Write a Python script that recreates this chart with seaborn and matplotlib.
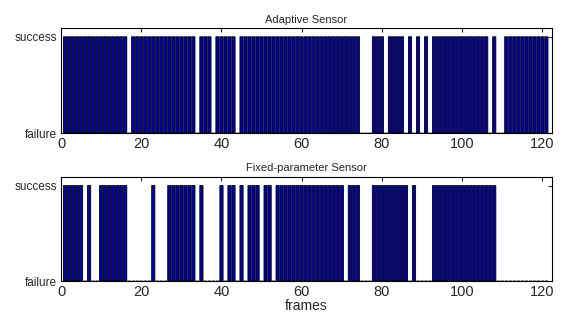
import numpy as np
import pandas as pd
import matplotlib
matplotlib.use('Agg')
import matplotlib.pyplot as plt
import seaborn as sns

# frame index and per-frame tracking result (1 = success, 0 = failure)
frames = list(range(1, 122))

adaptive = [1, 1, 1, 1, 1, 1, 1, 1, 1, 1,
            1, 1, 1, 1, 1, 1, 0, 1, 1, 1,
            1, 1, 1, 1, 1, 1, 1, 1, 1, 1,
            1, 1, 1, 0, 1, 1, 1, 0, 1, 1,
            1, 1, 1, 0, 1, 1, 1, 1, 1, 1,
            1, 1, 1, 1, 1, 1, 1, 1, 1, 1,
            1, 1, 1, 1, 1, 1, 1, 1, 1, 1,
            1, 1, 1, 1, 0, 0, 0, 1, 1, 1,
            0, 1, 1, 1, 1, 0, 1, 0, 1, 0,
            1, 0, 1, 1, 1, 1, 1, 1, 1, 1,
            1, 1, 1, 1, 1, 1, 0, 1, 0, 0,
            1, 1, 1, 1, 1, 1, 1, 1, 1, 1,
            1]

fixed = [1, 1, 1, 1, 1, 0, 1, 0, 0, 1,
         1, 1, 1, 1, 1, 1, 0, 0, 0, 0,
         0, 0, 1, 0, 0, 0, 1, 1, 1, 1,
         1, 1, 1, 0, 1, 0, 0, 0, 0, 1,
         0, 1, 1, 0, 1, 0, 1, 1, 1, 0,
         1, 1, 0, 1, 1, 1, 1, 1, 1, 1,
         1, 1, 1, 1, 1, 1, 1, 1, 1, 1,
         0, 1, 1, 1, 0, 0, 0, 1, 1, 1,
         1, 1, 1, 1, 1, 1, 0, 1, 0, 0,
         0, 0, 1, 1, 1, 1, 1, 1, 1, 1,
         1, 1, 1, 1, 1, 1, 1, 1, 0, 0,
         0, 0, 0, 0, 0, 0, 0, 0, 0, 0,
         0]

titles = ['Adaptive Sensor', 'Fixed-parameter Sensor']
ytick_labels = ['failure', 'success']
xticks = [0, 20, 40, 60, 80, 100, 120]

sns.set_style('white')
plt.rcParams['font.family'] = ['Liberation Sans', 'DejaVu Sans']

fig = plt.figure(figsize=(5.65, 3.23), dpi=100)
ax1 = fig.add_axes([0.108, 0.588, 0.869, 0.325])
ax2 = fig.add_axes([0.108, 0.130, 0.869, 0.322])

for ax, vals, title in zip([ax1, ax2], [adaptive, fixed], titles):
    df = pd.DataFrame({'frame': frames, 'result': vals})
    # snap=False keeps the thin black edges evenly spaced across all bars
    sns.barplot(data=df, x='frame', y='result', native_scale=True, width=0.8,
                color='#0000a8', saturation=1, edgecolor='black', linewidth=0.6,
                errorbar=None, snap=False, ax=ax)
    ax.set_xlim(0, 122.4)
    ax.set_ylim(0, 1.09)
    ax.set_xticks(xticks)
    ax.set_xticklabels([str(t) for t in xticks], fontsize=10.5)
    ax.set_yticks([0, 1])
    ax.set_yticklabels(ytick_labels, fontsize=8.5)
    ax.set_title(title, fontsize=8, pad=4)
    ax.set_xlabel('')
    ax.set_ylabel('')
    ax.tick_params(direction='in', top=True, right=True, length=3, width=0.8, pad=3)
    for s in ax.spines.values():
        s.set_color('black')
        s.set_linewidth(0.8)

ax2.set_xlabel('frames', fontsize=10, labelpad=0)

fig.savefig('out.png', dpi=100)
